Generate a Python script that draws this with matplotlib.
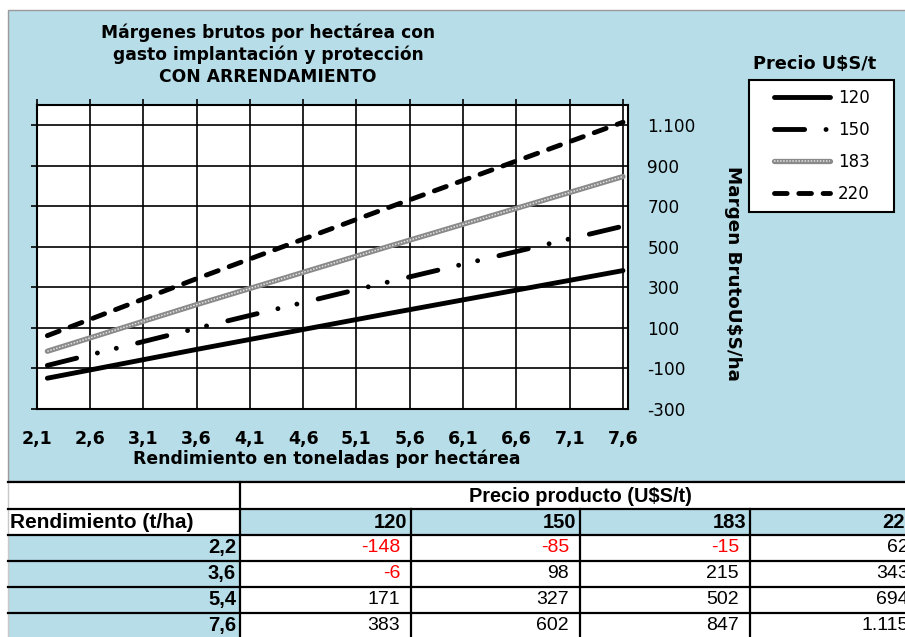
import matplotlib
matplotlib.use("Agg")
import matplotlib.pyplot as plt
from matplotlib.patches import Rectangle

# data
yields = [2.2, 3.6, 5.4, 7.6]
prices = [120, 150, 183, 220]
m120 = [-148, -6, 171, 383]
m150 = [-85, 98, 327, 602]
m183 = [-15, 215, 502, 847]
m220 = [62, 343, 694, 1115]
margins = [m120, m150, m183, m220]

x_ticks = [2.1, 2.6, 3.1, 3.6, 4.1, 4.6, 5.1, 5.6, 6.1, 6.6, 7.1, 7.6]
y_ticks = [-300, -100, 100, 300, 500, 700, 900, 1100]

title_lines = ["Márgenes brutos por hectárea con",
               "gasto implantación y protección",
               "CON ARRENDAMIENTO"]


def fmt(v):
    # thousands with dot, like the spreadsheet
    s = f"{abs(v):,}".replace(",", ".")
    return "-" + s if v < 0 else s


W, H = 905, 637
fig = plt.figure(figsize=(W / 100, H / 100), dpi=100)

# background layer in pixel coords (chart area + table)
bg = fig.add_axes([0, 0, 1, 1])
bg.set_xlim(0, W)
bg.set_ylim(H, 0)
bg.axis("off")
bg.add_patch(Rectangle((8, 10), 910, 471, fc="#b7dde8", ec="#9a9a9a", lw=1))

# main plot
ax = fig.add_axes([36.7 / W, 1 - 409 / H, (628 - 36.7) / W, (409 - 105) / H])
ax.set_facecolor("white")
ax.set_xlim(2.1, 7.647)
ax.set_ylim(-300, 1200)
ax.set_xticks(x_ticks)
ax.set_xticklabels([f"{x:.1f}".replace(".", ",") for x in x_ticks],
                   fontweight="bold", fontsize=12.5)
ax.set_yticks(y_ticks)
ax.set_yticklabels([fmt(v) for v in y_ticks], fontsize=12.2)
for lab, v in zip(ax.get_yticklabels(), y_ticks):
    if v < 0:
        lab.set_color("#ff0000")
ax.grid(True, color="black", lw=1.2)
ax.set_axisbelow(True)
for sp in ax.spines.values():
    sp.set_linewidth(1.5)
ax.tick_params(axis="x", top=True, bottom=False, labelbottom=True,
               direction="out", length=4, width=1.2, pad=11)
ax.tick_params(axis="y", left=True, right=False, labelleft=False,
               labelright=True, direction="out", length=4, width=1.2, pad=10)

l120, = ax.plot(yields, m120, color="black", lw=3.5, solid_capstyle="round")
l150, = ax.plot(yields, m150, color="black", lw=3.5,
                dashes=(6.2, 4.4, 0.01, 4.0, 0.01, 4.5), dash_capstyle="round")
b183, = ax.plot(yields, m183, color="#8a8a8a", lw=3.8, solid_capstyle="round")
o183, = ax.plot(yields, m183, color="#e2e2e2", lw=1.1, dashes=(1, 1))
l220, = ax.plot(yields, m220, color="black", lw=3.5,
                dashes=(2.6, 2.4), dash_capstyle="round")

# legend
bg.add_patch(Rectangle((749, 80), 145, 132, fc="white", ec="black", lw=1.5))
ax.legend([l120, l150, (b183, o183), l220], [str(p) for p in prices],
          loc="center", bbox_to_anchor=((749 + 145 / 2) / W, 1 - 146 / H),
          bbox_transform=fig.transFigure, frameon=False, fontsize=12,
          handlelength=3.4, handletextpad=0.45, labelspacing=0.85)
fig.text(815 / W, 1 - 64 / H, "Precio U$S/t", ha="center", va="center",
         fontsize=12.8, fontweight="bold")

for i, t in enumerate(title_lines):
    fig.text(268 / W, 1 - (33 + 22 * i) / H, t, ha="center", va="center",
             fontsize=12.3, fontweight="bold")
fig.text(327 / W, 1 - 459 / H, "Rendimiento en toneladas por hectárea",
         ha="center", va="center", fontsize=12.4, fontweight="bold")
fig.text(733 / W, 1 - 274 / H, "Margen BrutoU$S/ha", ha="center", va="center",
         rotation=-90, fontsize=13.2, fontweight="bold")

# table below the chart
tfont = ["Liberation Sans", "DejaVu Sans"]
col_x = [8, 240, 411, 580, 750, 920]
row_y = [482, 509, 535, 561, 587, 613, 639]
bg.add_patch(Rectangle((240, 509), 700, 26, fc="#b7dde8", lw=0))
bg.add_patch(Rectangle((8, 535), 232, 110, fc="#b7dde8", lw=0))
bg.plot([8, 8], [482, 639], color="#c8c8c8", lw=1)
for y in row_y[:-1]:
    bg.plot([8, W], [y, y], color="black", lw=1.6)
bg.plot([240, 240], [482, 639], color="black", lw=1.6)
for x in col_x[2:5]:
    bg.plot([x, x], [509, 639], color="black", lw=1.6)

bg.text((240 + 920) / 2, 496, "Precio producto (U$S/t)", ha="center",
        va="center", family=tfont, fontsize=14.4, fontweight="bold")
bg.text(10, 522, "Rendimiento (t/ha)", ha="left", va="center", family=tfont,
        fontsize=15, fontweight="bold")
for j, p in enumerate(prices):
    bg.text(col_x[j + 2] - 4, 522, str(p), ha="right", va="center",
            family=tfont, fontsize=14.5, fontweight="bold")
for i, yv in enumerate(yields):
    cy = (row_y[i + 2] + row_y[i + 3]) / 2
    bg.text(col_x[1] - 4, cy, f"{yv:.1f}".replace(".", ","), ha="right",
            va="center", family=tfont, fontsize=14.5, fontweight="bold")
    for j, m in enumerate(margins):
        v = m[i]
        bg.text(col_x[j + 2] - 11, cy, fmt(v), ha="right", va="center",
                family=tfont, fontsize=14,
                color="#ff0000" if v < 0 else "black")

fig.savefig("out.png", dpi=100)
